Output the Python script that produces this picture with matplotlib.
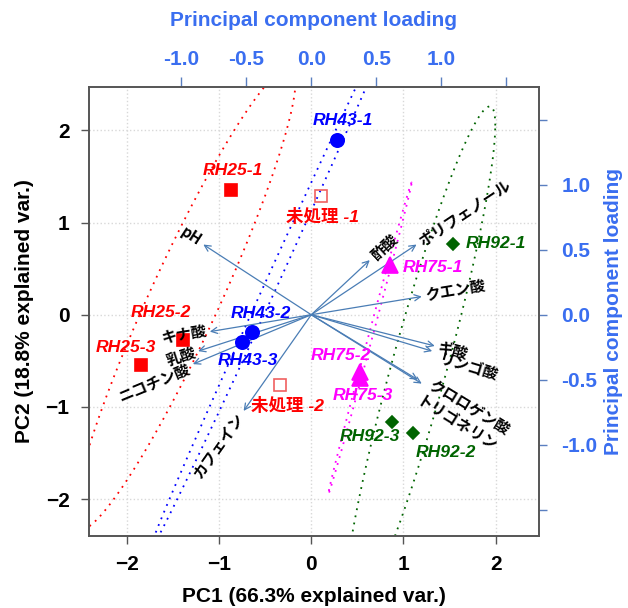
import numpy as np
import matplotlib
matplotlib.use('Agg')
import matplotlib.pyplot as plt

# scores (PC1, PC2) per sample
samples = ['RH25-1', 'RH25-2', 'RH25-3', '未処理 -1', '未処理 -2',
           'RH43-1', 'RH43-2', 'RH43-3', 'RH75-1', 'RH75-2', 'RH75-3',
           'RH92-1', 'RH92-2', 'RH92-3']
groups = ['RH25', 'RH25', 'RH25', '未処理', '未処理',
          'RH43', 'RH43', 'RH43', 'RH75', 'RH75', 'RH75',
          'RH92', 'RH92', 'RH92']
pc1 = [-0.87, -1.39, -1.85, 0.11, -0.34, 0.28, -0.64, -0.75, 0.85, 0.53, 0.53, 1.54, 1.10, 0.88]
pc2 = [1.35, -0.27, -0.55, 1.29, -0.76, 1.90, -0.19, -0.30, 0.54, -0.62, -0.69, 0.77, -1.28, -1.16]

# variable loadings
variables = ['pH', 'キナ酸', '乳酸', 'ニコチン酸', 'カフェイン', '酢酸', 'ポリフェノール',
             'クエン酸', 'ギ酸', 'リンゴ酸', 'クロロゲン酸', 'トリゴネリン']
load1 = [-0.83, -0.78, -0.87, -0.91, -0.52, 0.45, 0.81, 0.85, 0.95, 0.93, 0.82, 0.85]
load2 = [0.54, -0.13, -0.28, -0.38, -0.74, 0.42, 0.54, 0.14, -0.24, -0.28, -0.50, -0.53]

scale_k = 1.41  # score units per loading unit

# styles
gstyle = {
    'RH25': dict(marker='s', color='#FF0000', face='#FF0000', ms=9.2),
    '未処理': dict(marker='s', color='#FF0000', face='none', ms=9.0),
    'RH43': dict(marker='o', color='#0000FF', face='#0000FF', ms=9.6),
    'RH75': dict(marker='^', color='#FF00FF', face='#FF00FF', ms=12.0),
    'RH92': dict(marker='D', color='#006400', face='#006400', ms=6.6),
}
label_off = {
    'RH25-1': (2, 20), 'RH25-2': (-22, 27), 'RH25-3': (-15, 18),
    '未処理 -1': (1, -21), '未処理 -2': (8, -21),
    'RH43-1': (6, 19), 'RH43-2': (9, 19), 'RH43-3': (6, -18),
    'RH75-1': (43, -3), 'RH75-2': (-19, 16), 'RH75-3': (3, -17),
    'RH92-1': (43, 0), 'RH92-2': (33, -20), 'RH92-3': (-23, -15),
}
# (along, perpendicular) pixel nudges of the variable labels
var_nudge = {'キナ酸': (-1, 2), '乳酸': (-2, 0), 'ニコチン酸': (0, -2),
             'リンゴ酸': (4, -5), 'クロロゲン酸': (9, 2), 'トリゴネリン': (1, -16)}

blue_axis = '#3A6EF0'
arrow_col = '#4A7DB5'
lat = ['Liberation Sans', 'Noto Sans CJK JP']
jp = ['Noto Sans CJK JP', 'DejaVu Sans']

fig = plt.figure(figsize=(6.28, 6.08), dpi=100)
ax = fig.add_axes([89 / 628, (608 - 536) / 608, 450 / 628, 449 / 608])
ax.set_xlim(-2.41, 2.47)
ax.set_ylim(-2.40, 2.47)

ax.set_xticks([-2, -1, 0, 1, 2])
ax.set_yticks([-2, -1, 0, 1, 2])
ax.grid(True, color='#D8D8D8', linestyle=':', linewidth=1.0)
ax.set_axisbelow(True)

x = np.array(pc1)
y = np.array(pc2)
g = np.array(groups)

# 95% normal data ellipses
ed = np.sqrt(-2 * np.log(0.05))
t = np.linspace(0, 2 * np.pi, 300)
circ = np.column_stack([np.cos(t), np.sin(t)])
for grp, st in gstyle.items():
    m = g == grp
    if m.sum() < 3:
        continue
    pts = np.column_stack([x[m], y[m]])
    mu = pts.mean(axis=0)
    L = np.linalg.cholesky(np.cov(pts.T))
    ell = mu + ed * circ @ L.T
    ax.plot(ell[:, 0], ell[:, 1], color=st['color'], linestyle=(0, (1, 3)),
            linewidth=1.3, zorder=2)

# loading arrows
for name, lx, ly in zip(variables, load1, load2):
    tx, ty = lx * scale_k, ly * scale_k
    ax.annotate('', xy=(tx, ty), xytext=(0, 0),
                arrowprops=dict(arrowstyle='->', color=arrow_col, lw=0.9,
                                mutation_scale=11, shrinkA=0, shrinkB=0), zorder=3)
    ang = np.degrees(np.arctan2(ly, lx))
    if lx < 0:
        rot, ha = ang - 180, 'right'
    else:
        rot, ha = ang, 'left'
    ca, sa = np.cos(np.radians(ang)), np.sin(np.radians(ang))
    na, npd = var_nudge.get(name, (0, 0))
    pr = np.radians(rot + 90)
    d = 4 + na
    off = (d * ca + npd * np.cos(pr), d * sa + npd * np.sin(pr))
    ax.annotate(name, xy=(tx, ty), xytext=off, textcoords='offset pixels',
                rotation=rot, rotation_mode='anchor', ha=ha, va='center',
                fontsize=11, family=jp, fontweight='bold', color='black', zorder=5)

# sample points
for grp, st in gstyle.items():
    m = g == grp
    ax.plot(x[m], y[m], linestyle='none', marker=st['marker'], markersize=st['ms'],
            markerfacecolor=st['face'],
            markeredgecolor=st['color'] if st['face'] != 'none' else '#F06060',
            markeredgewidth=1.2, zorder=4)

for s, grp, xi, yi in zip(samples, groups, pc1, pc2):
    st = gstyle[grp]
    ax.annotate(s, xy=(xi, yi), xytext=label_off[s], textcoords='offset pixels',
                ha='center', va='center', fontsize=12.6, family=lat,
                style='italic', fontweight='bold', color=st['color'], zorder=6)

# frame and main axes
for sp in ax.spines.values():
    sp.set_color('#555555')
    sp.set_linewidth(1.4)
ax.tick_params(axis='both', length=6, width=1.0, color='#555555', pad=8, labelsize=15)
for lb in ax.get_xticklabels() + ax.get_yticklabels():
    lb.set_family('Liberation Sans')
    lb.set_fontweight('bold')
ax.set_xlabel('PC1 (66.3% explained var.)', fontsize=15, fontweight='bold',
              family='Liberation Sans', labelpad=9)
ax.set_ylabel('PC2 (18.8% explained var.)', fontsize=15, fontweight='bold',
              family='Liberation Sans', labelpad=8)

# loading axes (top and right)
load_ticks = [-1.0, -0.5, 0.0, 0.5, 1.0, 1.5]
load_labels = ['-1.0', '-0.5', '0.0', '0.5', '1.0', '']
top = ax.secondary_xaxis('top', functions=(lambda v: v / scale_k, lambda v: v * scale_k))
top.set_xticks(load_ticks)
top.set_xticklabels(load_labels)
top.tick_params(length=7, width=1.0, color='#5A7FC0', labelcolor=blue_axis, labelsize=15, pad=6)
top.spines['top'].set_visible(False)
top.set_xlabel('Principal component loading', color=blue_axis, fontsize=15,
               fontweight='bold', family='Liberation Sans', labelpad=17)

rload_ticks = [-1.5, -1.0, -0.5, 0.0, 0.5, 1.0, 1.5]
rload_labels = ['', '-1.0', '-0.5', '0.0', '0.5', '1.0', '']
right = ax.secondary_yaxis('right', functions=(lambda v: v / scale_k, lambda v: v * scale_k))
right.set_yticks(rload_ticks)
right.set_yticklabels(rload_labels)
right.tick_params(length=6, width=1.0, color='#5A7FC0', labelcolor=blue_axis, labelsize=15, pad=10)
right.spines['right'].set_visible(False)
right.set_ylabel('Principal component loading', color=blue_axis, fontsize=15,
                 fontweight='bold', family='Liberation Sans', labelpad=5)
for lb in top.get_xticklabels() + right.get_yticklabels():
    lb.set_family('Liberation Sans')
    lb.set_fontweight('bold')

fig.savefig('out.png', dpi=100, facecolor='white')
